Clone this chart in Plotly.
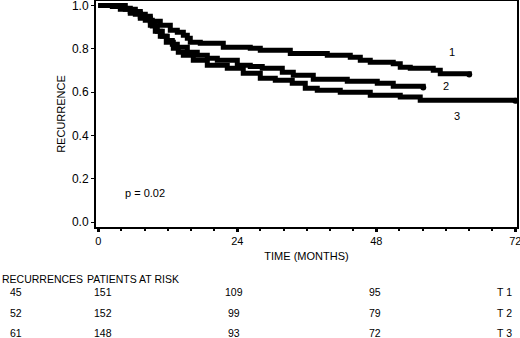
import plotly.graph_objects as go

# Kaplan-Meier style curves (months, proportion)
t1 = [0, 2.94, 4.14, 5.52, 7.25, 8.98, 10.70, 12.43, 13.64, 14.68, 15.37, 15.88, 17.61, 21.58,
      26.24, 27.97, 33.15, 39.54, 43.51, 45.24, 46.96, 50.93, 52.14, 53.87, 57.84, 59.05, 64.05]
s1 = [1.0, 1.0, 0.987, 0.973, 0.950, 0.927, 0.909, 0.886, 0.877, 0.863, 0.849, 0.830, 0.826,
      0.807, 0.803, 0.793, 0.779, 0.770, 0.761, 0.747, 0.738, 0.731, 0.715, 0.710, 0.701, 0.685, 0.682]

t2 = [0, 3.45, 4.66, 6.39, 8.11, 9.32, 10.19, 11.05, 11.91, 12.78, 13.64, 15.37, 17.09, 18.82,
      20.55, 24.00, 26.24, 28.31, 31.77, 33.67, 37.12, 42.99, 48.17, 50.93, 56.11]
s2 = [1.0, 1.0, 0.983, 0.960, 0.932, 0.905, 0.881, 0.858, 0.839, 0.821, 0.807, 0.784, 0.770,
      0.756, 0.747, 0.724, 0.719, 0.710, 0.692, 0.678, 0.659, 0.650, 0.641, 0.627, 0.621]

t3 = [0, 2.42, 3.80, 5.52, 7.25, 8.98, 9.84, 10.70, 11.74, 12.95, 13.81, 14.68, 16.40, 18.82,
      22.27, 25.03, 27.97, 30.56, 33.49, 35.74, 37.81, 41.78, 46.96, 52.14, 55.59, 72.0]
s3 = [1.0, 0.996, 0.983, 0.964, 0.941, 0.909, 0.881, 0.858, 0.830, 0.803, 0.784, 0.770, 0.747,
      0.724, 0.710, 0.687, 0.664, 0.655, 0.641, 0.618, 0.609, 0.600, 0.586, 0.577, 0.563, 0.560]

curve_labels = ["1", "2", "3"]
label_x = [61.1, 60.1, 62.0]
label_y = [0.784, 0.627, 0.488]

x_ticks = [0, 24, 48, 72]
y_ticks = [0.0, 0.2, 0.4, 0.6, 0.8, 1.0]

recurrences = ["45", "52", "61"]
at_risk_0 = ["151", "152", "148"]
at_risk_24 = ["109", "99", "93"]
at_risk_48 = ["95", "79", "72"]
groups = ["T 1", "T 2", "T 3"]

FONT = "Liberation Sans, Arial, sans-serif"

fig = go.Figure()
for t, s in [(t1, s1), (t2, s2), (t3, s3)]:
    fig.add_trace(go.Scatter(x=t, y=s, mode="lines", line=dict(shape="hv", color="black", width=5),
                             showlegend=False, hoverinfo="skip"))
    fig.add_trace(go.Scatter(x=[t[-1]], y=[s[-1]], mode="markers",
                             marker=dict(color="black", size=6), showlegend=False, hoverinfo="skip"))

ann = []
for lab, lx, ly in zip(curve_labels, label_x, label_y):
    ann.append(dict(x=lx, y=ly, xref="x", yref="y", text=lab, showarrow=False,
                    font=dict(size=11, color="black", family=FONT)))
ann.append(dict(x=4.3, y=0.134, xref="x", yref="y", text="p = 0.02", showarrow=False,
                xanchor="left", font=dict(size=11, color="black", family=FONT)))

row_y = [-0.289, -0.382, -0.471]
header_y = -0.230
ann.append(dict(x=-0.228, y=header_y, xref="paper", yref="paper", text="RECURRENCES",
                showarrow=False, xanchor="left", yanchor="middle",
                font=dict(size=10.5, color="black", family=FONT)))
ann.append(dict(x=-0.0254, y=header_y, xref="paper", yref="paper", text="PATIENTS AT RISK",
                showarrow=False, xanchor="left", yanchor="middle",
                font=dict(size=10.5, color="black", family=FONT)))
for i in range(3):
    f = dict(size=10.5, color="black", family=FONT)
    ann.append(dict(x=-0.189, y=row_y[i], xref="paper", yref="paper", text=recurrences[i],
                    showarrow=False, xanchor="center", yanchor="middle", font=f))
    ann.append(dict(x=-0.0088, y=row_y[i], xref="paper", yref="paper", text=at_risk_0[i],
                    showarrow=False, xanchor="left", yanchor="middle", font=f))
    ann.append(dict(x=23.5, y=row_y[i], xref="x", yref="paper", text=at_risk_24[i],
                    showarrow=False, xanchor="center", yanchor="middle", font=f))
    ann.append(dict(x=47.7, y=row_y[i], xref="x", yref="paper", text=at_risk_48[i],
                    showarrow=False, xanchor="center", yanchor="middle", font=f))
    ann.append(dict(x=70.1, y=row_y[i], xref="x", yref="paper", text=groups[i],
                    showarrow=False, xanchor="center", yanchor="middle", font=f))

fig.update_layout(
    width=520, height=338,
    margin=dict(l=96, r=3, t=1, b=111, autoexpand=False),
    paper_bgcolor="white", plot_bgcolor="white",
    font=dict(family=FONT, size=11, color="black"),
    annotations=ann,
    xaxis=dict(range=[-0.4, 72.3], tickvals=x_ticks, ticktext=[str(v) for v in x_ticks],
               showline=True, linecolor="black", linewidth=2, mirror=True,
               ticks="outside", ticklen=3, tickwidth=3, tickcolor="black",
               minor=dict(dtick=4, tick0=0, ticks="outside", ticklen=2, tickwidth=2, tickcolor="black"),
               showgrid=False, zeroline=False, tickfont=dict(size=11), ticklabeloverflow="allow",
               title=dict(text="TIME (MONTHS)", font=dict(size=11), standoff=6)),
    yaxis=dict(range=[-0.023, 1.021], tickvals=y_ticks, ticktext=["%.1f" % v for v in y_ticks],
               showline=True, linecolor="black", linewidth=2, mirror=True,
               ticks="outside", ticklen=3, tickwidth=1, tickcolor="black",
               showgrid=False, zeroline=False, tickfont=dict(size=12), ticklabeloverflow="allow",
               title=dict(text="RECURRENCE", font=dict(size=11), standoff=4)),
)

fig.write_html("out.html", config={"displayModeBar": False},
               post_script="document.body.style.margin='0';document.body.style.overflow='hidden';")
